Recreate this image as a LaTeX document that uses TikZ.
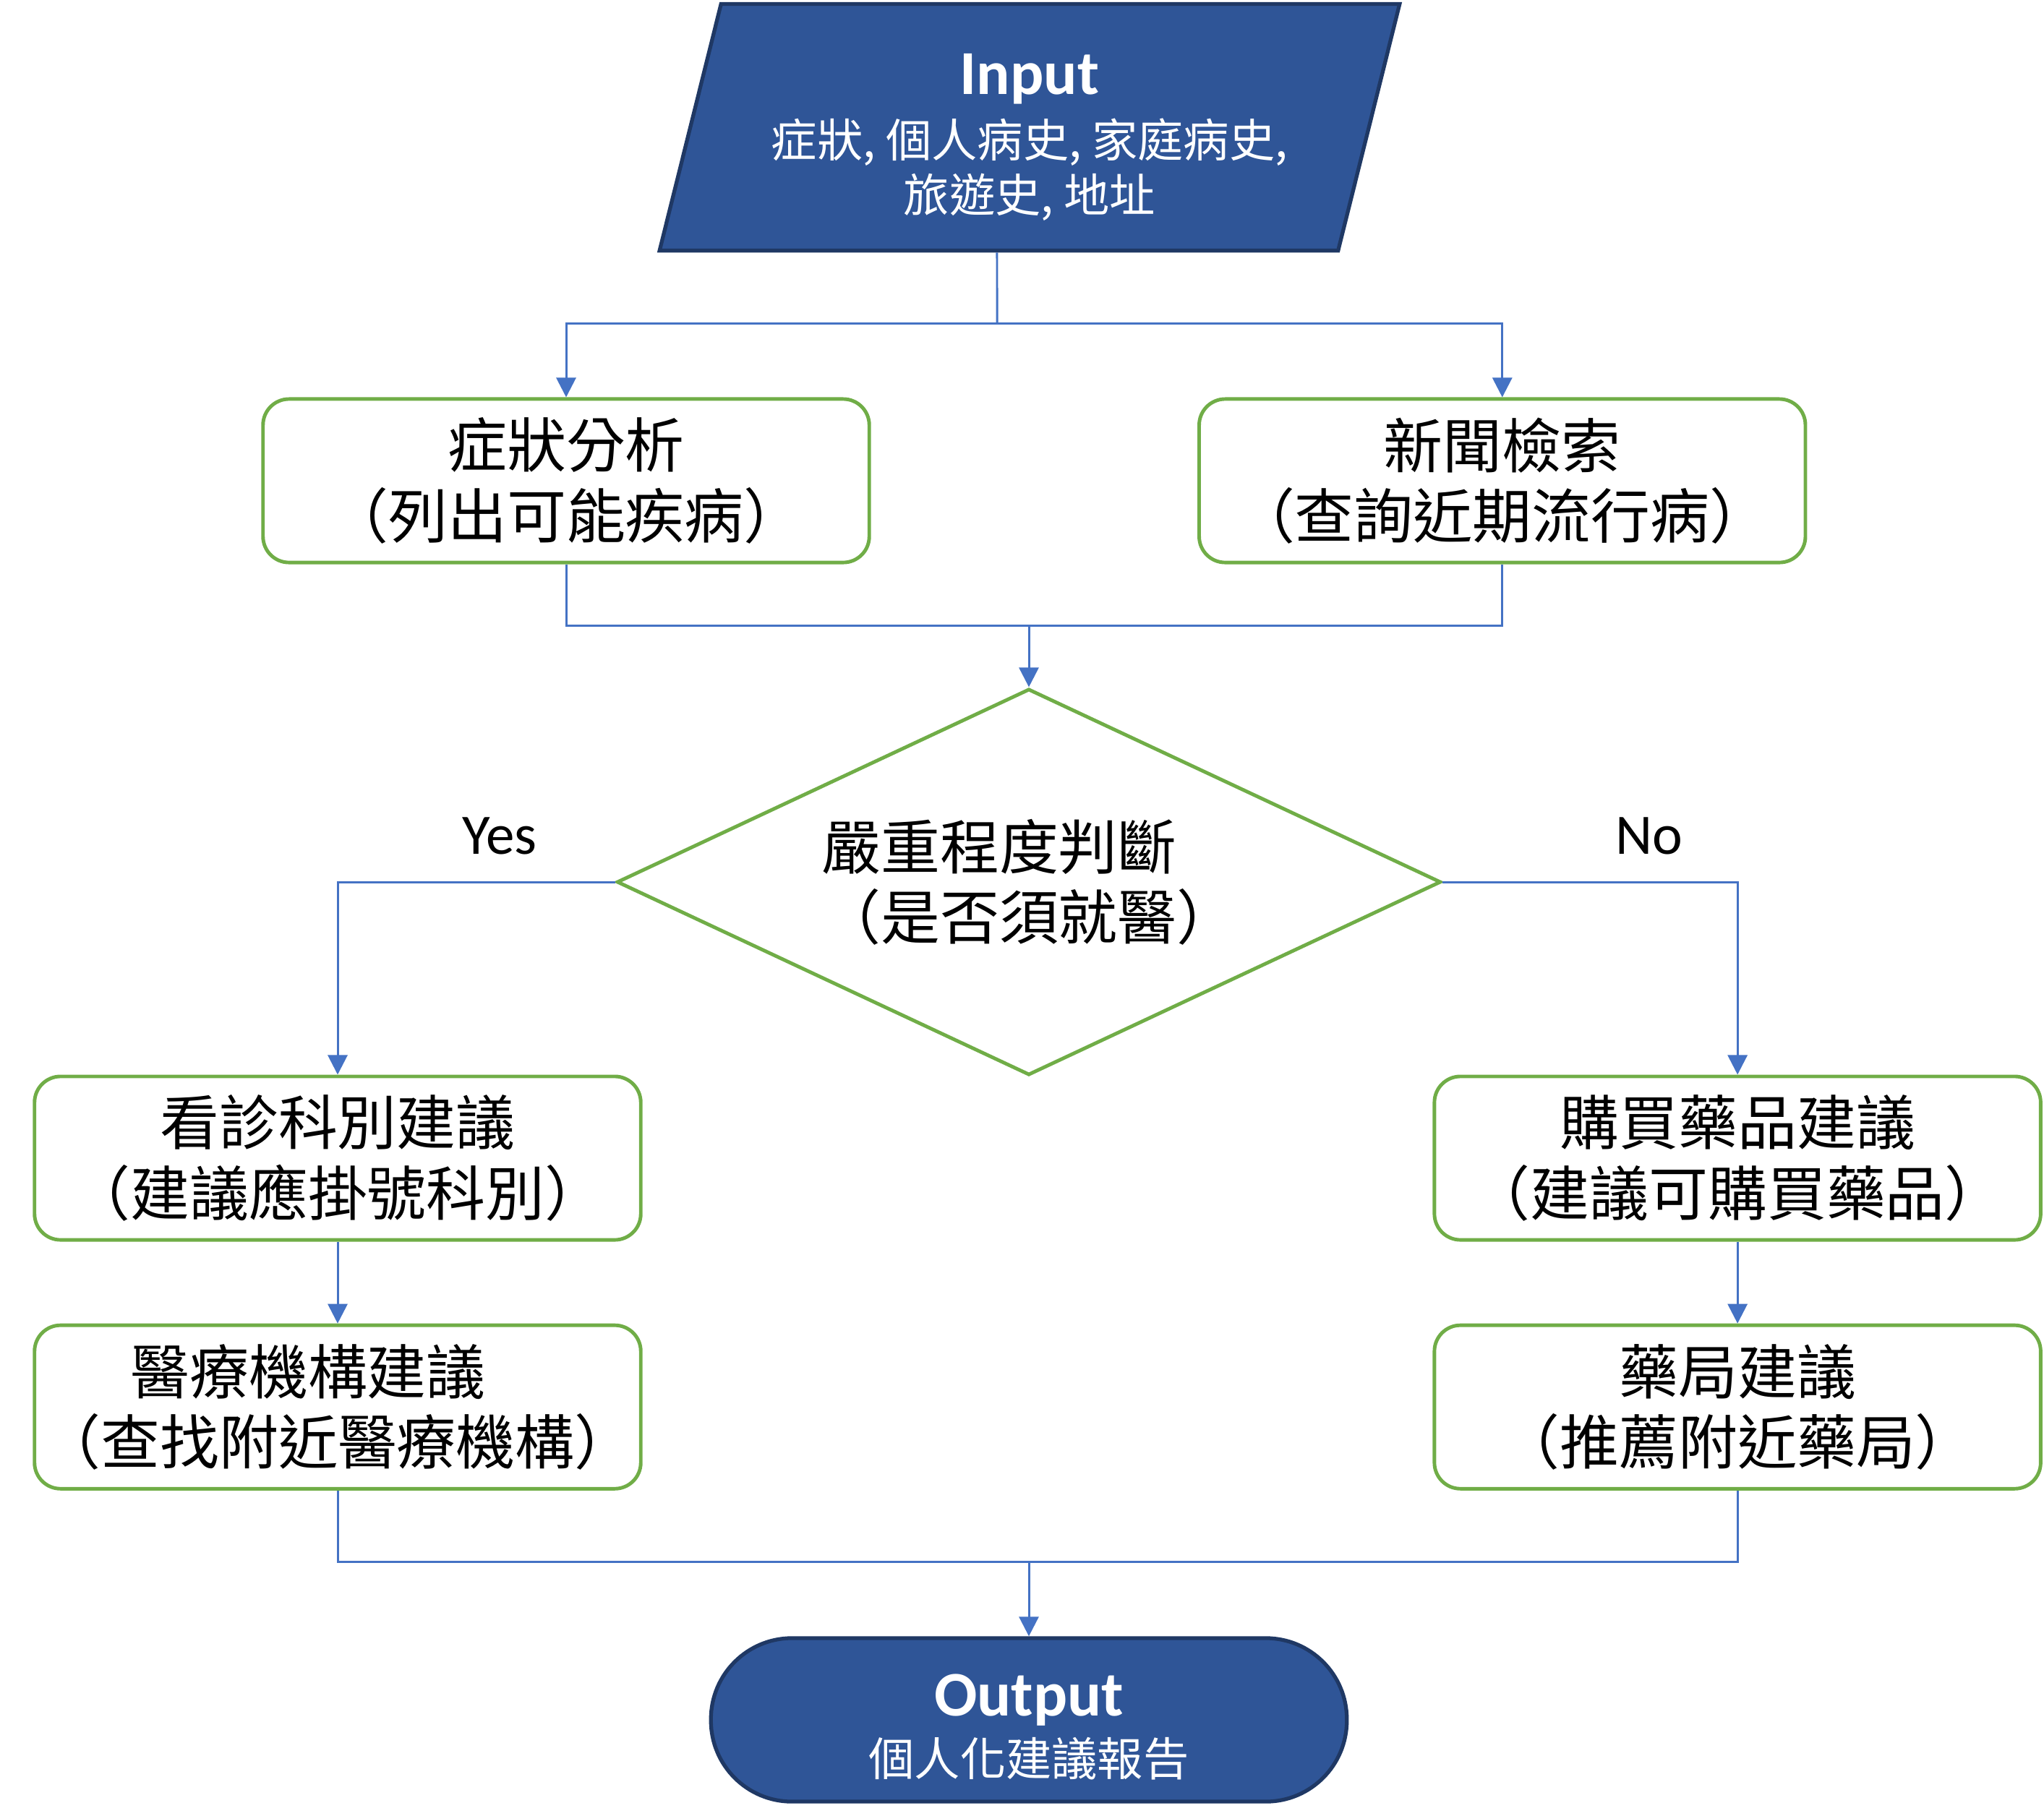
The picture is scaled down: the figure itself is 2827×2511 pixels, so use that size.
\documentclass[tikz,border=0pt]{standalone}
\usepackage{fontspec}
\setmainfont{Carlito}
\newfontfamily\cjk{Noto Sans CJK TC}
\usepackage{tikz}
\usetikzlibrary{arrows.meta, positioning, shapes.geometric}

\definecolor{fillblue}{HTML}{2F5597}
\definecolor{darkblue}{HTML}{1F3864}
\definecolor{boxgreen}{HTML}{70AD47}
\definecolor{lineblue}{HTML}{4472C4}

\begin{document}
\begin{tikzpicture}[x=0.01cm, y=-0.01cm, node distance=3.44cm,
        io/.style={trapezium, trapezium left angle=76, trapezium right angle=104, trapezium stretches body,
            fill=fillblue, draw=darkblue, line width=1.5pt, inner xsep=0pt, inner ysep=1.705cm, minimum width=10.23cm},
        iotext/.style={text=white, inner sep=0pt, align=center, font=\cjk\fontsize{18}{21.6}\selectfont},
        box/.style={rectangle, rounded corners=0.36cm, draw=boxgreen, line width=1.4pt, inner sep=0pt, align=center,
            minimum width=8.38cm, minimum height=2.26cm, font=\cjk\fontsize{23.3}{27.7}\selectfont},
        decision/.style={diamond, aspect=2.13, draw=boxgreen, line width=1.4pt, inner sep=0pt, align=center,
            minimum width=11.39cm, minimum height=5.34cm, font=\cjk\fontsize{23.3}{27.7}\selectfont},
        terminal/.style={rectangle, rounded corners=1.12cm, fill=fillblue, draw=darkblue, line width=1.5pt, text=white,
            inner sep=0pt, align=center, minimum width=8.79cm, minimum height=2.26cm, font=\cjk\fontsize{18}{21.6}\selectfont},
        lbl/.style={font=\fontsize{22.5}{27}\selectfont},
        line/.style={draw=lineblue, line width=0.85pt},
        arrow/.style={line, -{Triangle[length=0.27cm, width=0.27cm]}}]
    \useasboundingbox (0,0) rectangle (2827,2511);

    \node[io] (1) at (1424,176) {};
    \node[iotext] (1t) at (1424,190) {{\rmfamily\bfseries\fontsize{24.6}{28}\selectfont Input}\\[3pt]症狀, 個人病史, 家庭病史,\\旅遊史, 地址};
    \node[box] (2) at (783,665) {症狀分析\\（列出可能疾病）};
    \node[box] (3) [right of=2, node distance=12.94cm] {新聞檢索\\（查詢近期流行病）};
    \node[decision] (4) at (1423,1220) {嚴重程度判斷　\\（是否須就醫）};
    \node[box] (5) at (467,1602) {看診科別建議\\（建議應掛號科別）};
    \node[box] (6) [right of=5, node distance=19.35cm] {購買藥品建議\\（建議可購買藥品）};
    \node[box] (7) [below of=5] {醫療機構建議　\\（查找附近醫療機構）};
    \node[box] (8) [below of=6] {藥局建議\\（推薦附近藥局）};
    \node[terminal] (9) at (1423,2379) {{\rmfamily\bfseries\fontsize{25}{30}\selectfont\rule{0pt}{22pt}Output}\\[2pt]個人化建議報告};

    \node[lbl] (yes) at (691,1156) {Yes};
    \node[lbl] (no) at (2281,1156) {No};

    \coordinate (a) at (1379,447);
    \coordinate (b) at (1423,865);
    \coordinate (c) at (1423,2160);

    \draw[line] ([xshift=-0.45cm]1.south) -- (a);
    \draw[arrow] (a) -| (2);
    \draw[arrow] (a) -| (3);
    \draw[line] (2) |- (b) -| (3);
    \draw[arrow] (b) -- (4);
    \draw[arrow] (4) -| (5);
    \draw[arrow] (4) -| (6);
    \draw[arrow] (5) -- (7);
    \draw[arrow] (6) -- (8);
    \draw[line] (7) |- (c) -| (8);
    \draw[arrow] (c) -- (9);
\end{tikzpicture}
\end{document}
